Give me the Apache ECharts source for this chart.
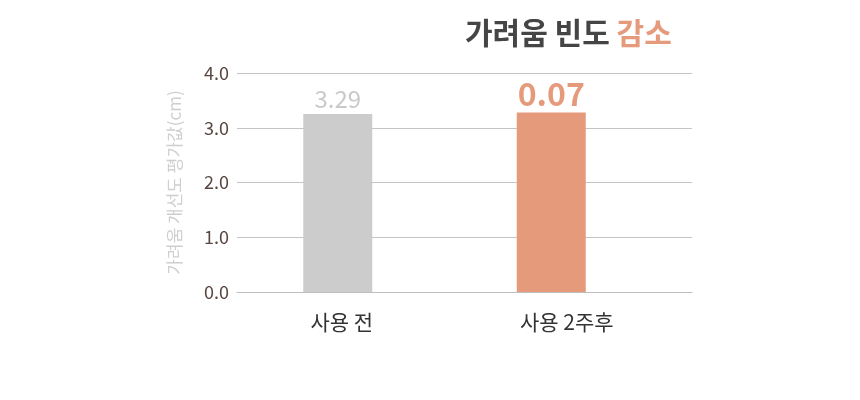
<!DOCTYPE html>
<html>
<head>
<meta charset="utf-8">
<script src="https://cdn.jsdelivr.net/npm/echarts@6/dist/echarts.min.js"></script>
<style>
  html, body { margin: 0; padding: 0; background: #fff; }
  #main { width: 860px; height: 400px; }
</style>
</head>
<body>
<div id="main"></div>
<script>
var chartDom = document.getElementById('main');
var myChart = echarts.init(chartDom);
var option;

// data
var categories = ['사용 전', '사용 2주후'];
var values = [3.25, 3.28];
var valueLabels = ['3.29', '0.07'];
var yTicks = [0, 1, 2, 3, 4];

var barColors = ['#cccccc', '#e69a7c'];
var labelStyles = [
    { color: '#c9c9c9', fontSize: 24, fontWeight: 'normal' },
    { color: '#e69a7c', fontSize: 32, fontWeight: 'bold' }
];
// the category labels sit a bit right of the bar centres
var catShift = [8, 31];

var font = '"Noto Sans CJK KR", "Noto Sans", sans-serif';

var barData = values.map(function (v, i) {
    return {
        value: v,
        itemStyle: { color: barColors[i] },
        label: {
            show: true,
            position: 'top',
            distance: 3,
            formatter: valueLabels[i],
            fontFamily: font,
            color: labelStyles[i].color,
            fontSize: labelStyles[i].fontSize,
            fontWeight: labelStyles[i].fontWeight
        }
    };
});

var catRich = {};
catShift.forEach(function (p, i) {
    catRich['c' + i] = { fontFamily: font, fontSize: 21, color: '#333333', padding: [0, 0, 0, p] };
});

option = {
    animation: false,
    title: {
        left: 460,
        top: 13,
        text: '{a|가려움 빈도 }{b|감소}',
        textStyle: {
            fontFamily: font,
            rich: {
                a: { fontFamily: font, fontSize: 30, fontWeight: 'bold', color: '#454545' },
                b: { fontFamily: font, fontSize: 30, fontWeight: 'bold', color: '#e69a7c' }
            }
        }
    },
    grid: [
        { left: 237, right: 168, top: 73, bottom: 108 },
        { left: 231, right: 202, top: 73, bottom: 108 }
    ],
    xAxis: [
        {
            gridIndex: 0,
            type: 'category',
            data: [''],
            axisLine: { show: true, lineStyle: { color: '#bdbdbd' } },
            axisTick: { show: false },
            axisLabel: { show: false }
        },
        {
            gridIndex: 1,
            type: 'category',
            data: categories,
            axisLine: { show: false },
            axisTick: { show: false },
            axisLabel: {
                margin: 20,
                formatter: function (v, i) { return '{c' + i + '|' + v + '}'; },
                rich: catRich
            }
        }
    ],
    yAxis: [
        {
            gridIndex: 0,
            type: 'value',
            min: yTicks[0],
            max: yTicks[yTicks.length - 1],
            interval: 1,
            name: '가려움 개선도 평가값(cm)',
            nameLocation: 'middle',
            nameGap: 54,
            nameTextStyle: { fontFamily: font, fontSize: 17, color: '#cfcfcf' },
            axisLine: { show: false },
            axisTick: { show: false },
            axisLabel: {
                margin: 8,
                fontFamily: font,
                fontSize: 18,
                color: '#5a4640',
                formatter: function (v) { return v.toFixed(1); }
            },
            splitLine: { lineStyle: { color: '#c4c4c4', width: 1 } }
        },
        {
            gridIndex: 1,
            type: 'value',
            min: yTicks[0],
            max: yTicks[yTicks.length - 1],
            interval: 1,
            show: false
        }
    ],
    series: [{
        type: 'bar',
        xAxisIndex: 1,
        yAxisIndex: 1,
        barWidth: 69,
        data: barData
    }]
};

option && myChart.setOption(option);
</script>
</body>
</html>
